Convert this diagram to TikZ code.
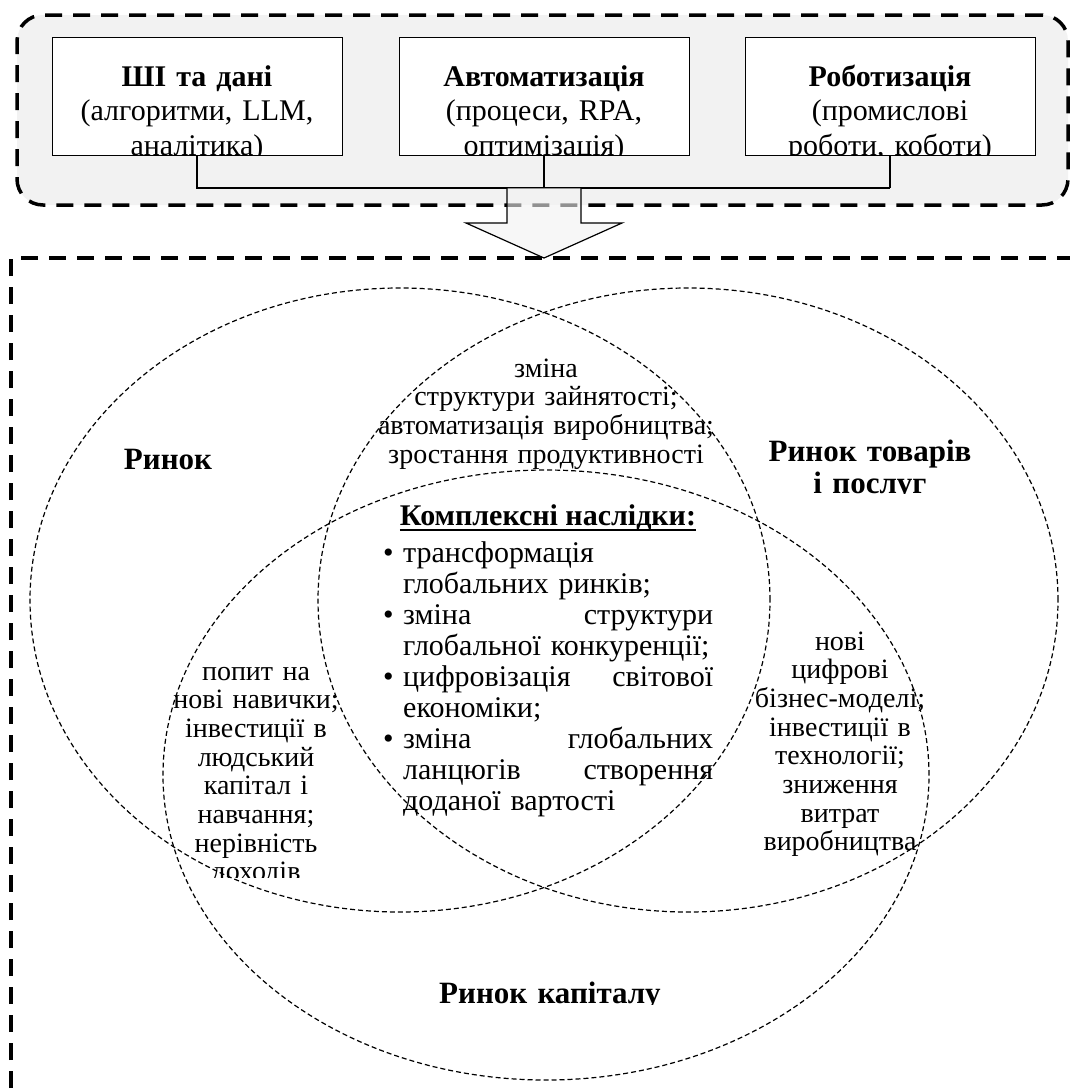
\documentclass[tikz,border=0pt]{standalone}
\usepackage{fontspec}
\setmainfont{Liberation Serif}
\usetikzlibrary{shapes.geometric}
\definecolor{boxgray}{HTML}{F2F2F2}
\newcommand\fixlines{\lineskiplimit=-100pt\relax\hyphenpenalty=10000\relax}
\newcommand\brk{\nobreak\hfil\break}
\newcommand\bitm[1]{\hangindent=20pt\hangafter=1\noindent\makebox[20pt][l]{\textbullet}#1\par}
\begin{document}
\begin{tikzpicture}[x=1pt,y=-1pt,
  bigdash/.style={line width=3.5pt, dash pattern=on 17pt off 11pt},
  elldash/.style={draw, ellipse, line width=1.2pt, dash pattern=on 5pt off 3pt, inner sep=0},
  tbox/.style={draw=black, line width=1pt, fill=white, minimum width=290pt, minimum height=118pt, inner sep=0},
  ttext/.style={font=\fontsize{30}{34.5}\selectfont\fixlines, text width=300pt, align=center, inner sep=0, anchor=base},
  lens/.style={font=\fontsize{28}{28.7}\selectfont\fixlines, text width=420pt, align=center, inner sep=0, anchor=base},
  mtitle/.style={font=\fontsize{31}{32}\selectfont\bfseries\fixlines, text width=400pt, align=center, inner sep=0, anchor=base},
  conn/.style={line width=1.5pt},
]
\useasboundingbox (0,0) rectangle (1070,1090);

% top frame
\node[draw, bigdash, fill=boxgray, rounded corners=26pt, minimum width=1051pt, minimum height=190pt, inner sep=0] (topframe) at (542.5,110) {};

% boxes
\node[tbox] (b1) at (197,96) {};
\node[tbox] (b2) at (544,96) {};
\node[tbox] (b3) at (890,96) {};
\begin{scope}
\clip (b1.south west) rectangle (b1.north east);
\node[ttext] (t1) at (197,86) {\textbf{ШІ та дані}\\(алгоритми, LLM,\\аналітика)};
\end{scope}
\begin{scope}
\clip (b2.south west) rectangle (b2.north east);
\node[ttext] (t2) at (544,86) {\textbf{Автоматизація}\\(процеси, RPA,\\оптимізація)};
\end{scope}
\begin{scope}
\clip (b3.south west) rectangle (b3.north east);
\node[ttext] (t3) at (890,86) {\textbf{Роботизація}\\(промислові\\роботи, коботи)};
\end{scope}

% connectors
\coordinate (j1) at (197,188);
\coordinate (j2) at (544,188);
\coordinate (j3) at (890,188);
\draw[conn] (b1.south) -- (j1) -- (j3);
\draw[conn] (b2.south) -- (j2);
\draw[conn] (b3.south) -- (j3);

% lower frame
\coordinate (lf1) at (11,1200);
\coordinate (lf2) at (11,258);
\coordinate (lf3) at (1200,258);
\draw[bigdash] (lf1) -- (lf2) -- (lf3);

% ellipses
\node[elldash, minimum width=740pt, minimum height=624pt] (e1) at (400,600) {};
\node[elldash, minimum width=740pt, minimum height=624pt] (e2) at (688,600) {};
\node[elldash, minimum width=766pt, minimum height=610pt] (e3) at (546,775) {};

% titles
\node[mtitle] (m1) at (168,469) {Ринок};
\begin{scope}
\clip (700,400) rectangle (1040,493);
\node[mtitle] (m2) at (870,461) {Ринок товарів\\і послуг};
\end{scope}
\begin{scope}
\clip (380,950) rectangle (720,1004);
\node[mtitle] (m3) at (550,1003) {Ринок капіталу};
\end{scope}

% lens texts
\node[lens] (l12) at (546,377) {зміна\\структури зайнятості;\\автоматизація виробництва;\\зростання продуктивності};
\begin{scope}
\clip (100,600) rectangle (420,877);
\node[lens] (l13) at (256,680) {попит на\\нові навички;\\інвестиції в\\людський\\капітал і\\навчання;\\нерівність\\доходів};
\end{scope}
\node[lens] (l23) at (840,650) {нові\\цифрові\\бізнес-моделі;\\інвестиції в\\технології;\\зниження\\витрат\\виробництва};

% centre
\node[anchor=base, inner sep=0, font=\fontsize{30}{31}\selectfont\bfseries] (ctitle) at (548,525) {Комплексні наслідки:};
\draw[line width=1.8pt] ([yshift=-5pt]ctitle.base west) -- ([yshift=-5pt]ctitle.base east);
\node[anchor=base west, inner sep=0, text width=330pt, font=\fontsize{30}{31}\selectfont\fixlines] (cblock) at (383,562) {\rightskip=0pt\leftskip=0pt\parfillskip=0pt plus 1fil
\bitm{трансформація\brk глобальних~ринків;}
\bitm{зміна\nobreak\hfill структури\brk глобальної~конкуренції;}
\bitm{цифровізація\nobreak\hfill світової\brk економіки;}
\bitm{зміна\nobreak\hfill глобальних\brk ланцюгів\nobreak\hfill створення\brk доданої~вартості}};

% block arrow
\draw[line width=1.2pt, fill=boxgray, fill opacity=0.6] (j2) ++(-37,0) -- ++(0,35) -- ++(-41,0) -- ++(78,35) -- ++(78,-35) -- ++(-41,0) -- ++(0,-35);
\end{tikzpicture}
\end{document}
